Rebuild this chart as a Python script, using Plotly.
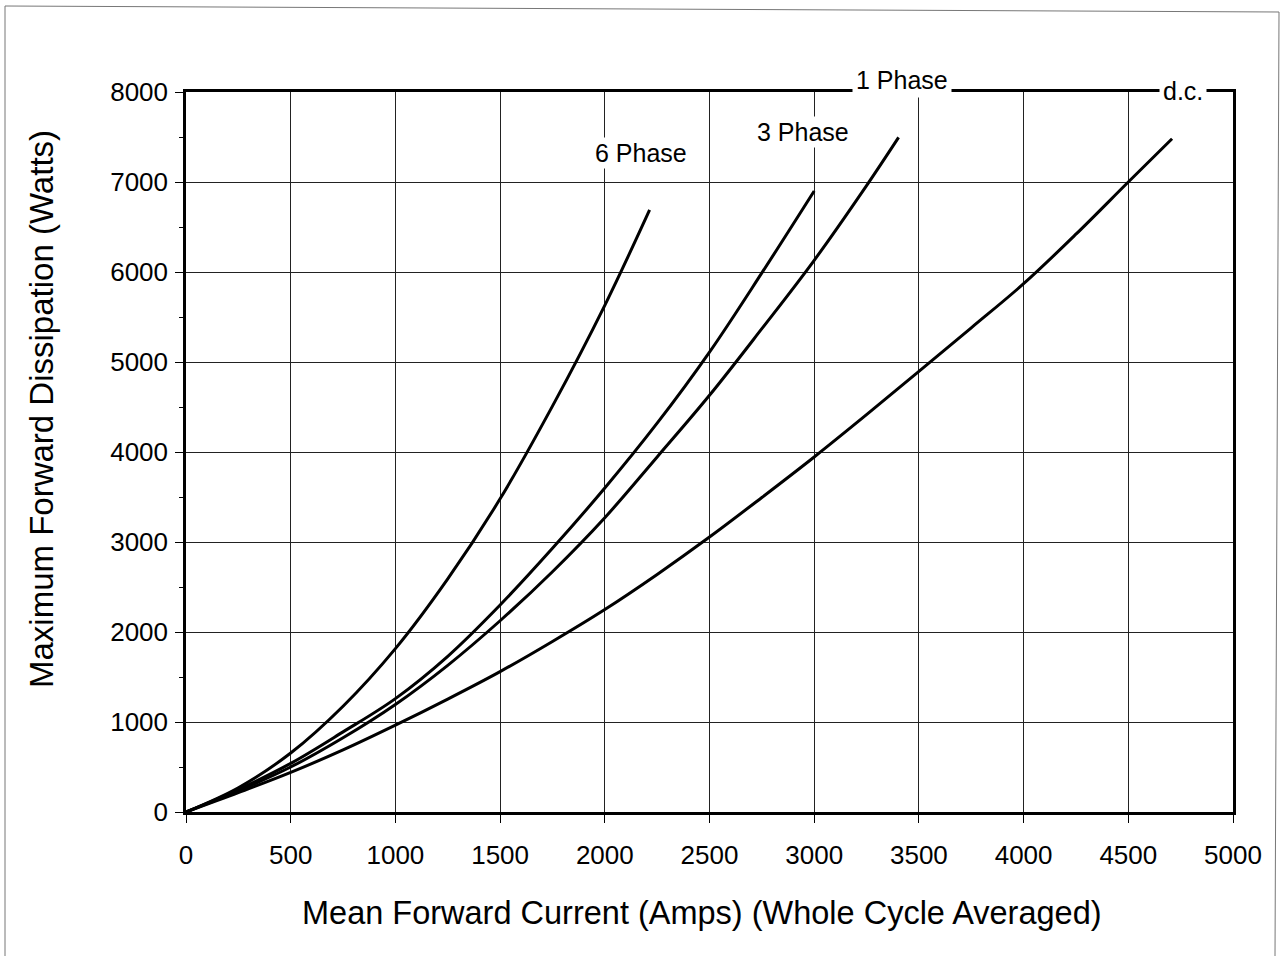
import plotly.graph_objects as go

# Data
x_6ph = [0, 250, 500, 750, 1000, 1250, 1500, 1750, 2000, 2214]
y_6ph = [0, 270, 655, 1175, 1815, 2590, 3480, 4510, 5630, 6690]

x_3ph = [0, 250, 500, 750, 1000, 1250, 1500, 1750, 2000, 2250, 2500, 2750, 3000]
y_3ph = [0, 250, 540, 890, 1260, 1730, 2300, 2930, 3600, 4320, 5110, 5990, 6900]

x_1ph = [0, 250, 500, 750, 1000, 1250, 1500, 1750, 2000, 2250, 2500, 2750, 3000, 3250, 3403]
y_1ph = [0, 235, 500, 825, 1195, 1630, 2125, 2670, 3270, 3945, 4630, 5370, 6130, 6960, 7496]

x_dc = [0, 250, 500, 750, 1000, 1250, 1500, 1750, 2000, 2250, 2500, 2750, 3000,
        3250, 3500, 3750, 4000, 4250, 4500, 4709]
y_dc = [0, 215, 440, 690, 965, 1255, 1560, 1895, 2250, 2640, 3055, 3495, 3945,
        4415, 4895, 5380, 5870, 6420, 7000, 7480]

labels = ["6 Phase", "3 Phase", "1 Phase", "d.c."]
x_ticks = [0, 500, 1000, 1500, 2000, 2500, 3000, 3500, 4000, 4500, 5000]
y_ticks = [0, 1000, 2000, 3000, 4000, 5000, 6000, 7000, 8000]
x_title = "Mean Forward Current (Amps) (Whole Cycle Averaged)"
y_title = "Maximum Forward Dissipation (Watts)"

FONT = "Liberation Sans, Arial, sans-serif"

fig = go.Figure()
for xs, ys, name in [(x_6ph, y_6ph, labels[0]), (x_3ph, y_3ph, labels[1]),
                     (x_1ph, y_1ph, labels[2]), (x_dc, y_dc, labels[3])]:
    fig.add_trace(go.Scatter(x=xs, y=ys, mode="lines", name=name,
                             line=dict(color="black", width=3, shape="spline", smoothing=1.0),
                             showlegend=False))

fig.update_layout(
    width=1287, height=956,
    margin=dict(l=186, r=54, t=92, b=144),
    paper_bgcolor="white", plot_bgcolor="white",
    font=dict(family=FONT, color="black", size=26),
)
fig.update_xaxes(
    range=[0, 5000], tickvals=x_ticks, ticktext=[str(v) for v in x_ticks],
    showgrid=True, gridcolor="#222", gridwidth=1,
    showline=True, linecolor="black", linewidth=2.5, mirror=True,
    ticks="outside", ticklen=8, tickcolor="black", tickwidth=1,
    ticklabelstandoff=10, tickfont=dict(size=26),
    zeroline=False,
)
fig.update_yaxes(
    range=[0, 8000], tickvals=y_ticks, ticktext=[str(v) for v in y_ticks],
    showgrid=True, gridcolor="#222", gridwidth=1,
    showline=True, linecolor="black", linewidth=2.5, mirror=True,
    ticks="outside", ticklen=8, tickcolor="black", tickwidth=1,
    ticklabelstandoff=2, tickfont=dict(size=26),
    minor=dict(dtick=500, ticks="outside", ticklen=4, tickcolor="black", showgrid=False),
    zeroline=False,
)

pw, ph = 1047.0, 720.0
def px_x(p):
    return (p - 186) / pw
def px_y(p):
    return (812 - p) / ph

# axis titles (placed as in the reference, not centred on the plot)
fig.add_annotation(xref="paper", yref="paper", x=px_x(702), y=px_y(913),
                   text=x_title, showarrow=False, xanchor="center", yanchor="middle",
                   font=dict(size=32.5))
fig.add_annotation(xref="paper", yref="paper", x=px_x(41), y=px_y(409),
                   text=y_title, showarrow=False, xanchor="center", yanchor="middle",
                   textangle=-90, font=dict(size=33))

# curve labels
fig.add_annotation(x=2000, y=7000, yshift=29, text=labels[0], showarrow=False,
                   xanchor="left", yanchor="middle", font=dict(size=25), xshift=-12,
                   bgcolor="white")
fig.add_annotation(x=2700, y=7400, yshift=14, text=labels[1], showarrow=False,
                   xanchor="left", yanchor="middle", font=dict(size=25), xshift=4,
                   bgcolor="white")
fig.add_annotation(x=3420, y=8000, yshift=12, text=labels[2], showarrow=False,
                   xanchor="center", yanchor="middle", font=dict(size=25),
                   bgcolor="white", borderpad=3)
fig.add_annotation(x=4790, y=8000, yshift=1, xshift=-6, text=labels[3], showarrow=False,
                   xanchor="center", yanchor="middle", font=dict(size=25),
                   bgcolor="white", borderpad=3)

# scanned page frame
frame = dict(color="#777", width=1)
fig.add_shape(type="line", xref="paper", yref="paper", x0=px_x(5), x1=px_x(5),
              y0=px_y(956), y1=px_y(6), line=frame)
fig.add_shape(type="line", xref="paper", yref="paper", x0=px_x(5), x1=px_x(1279),
              y0=px_y(6), y1=px_y(12), line=frame)
fig.add_shape(type="line", xref="paper", yref="paper", x0=px_x(1279), x1=px_x(1275),
              y0=px_y(12), y1=px_y(956), line=frame)

fig.write_html("out.html")
